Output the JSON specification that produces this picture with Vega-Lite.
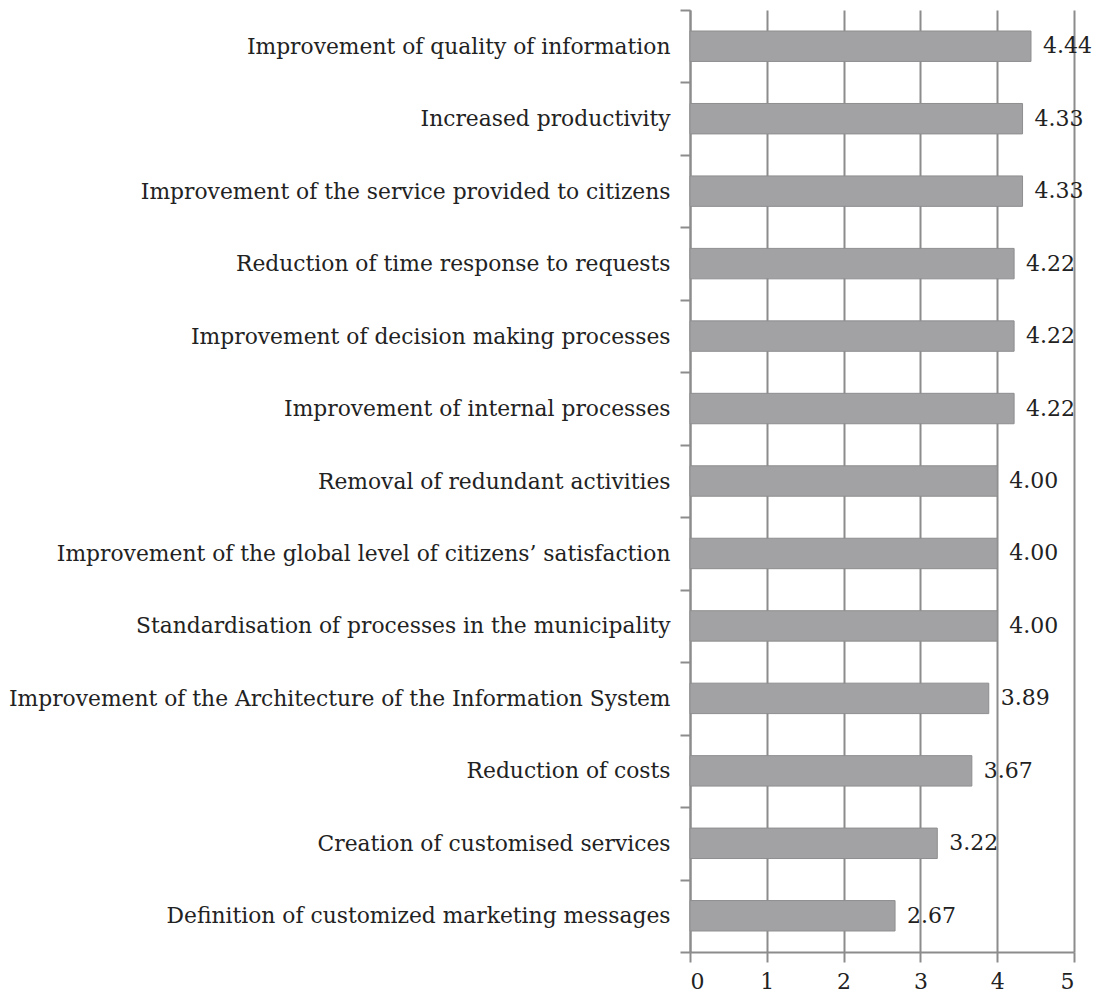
{
  "$schema": "https://vega.github.io/schema/vega-lite/v6.json",
  "autosize": "none",
  "width": 384,
  "height": 942,
  "padding": {"left": 690, "top": 10, "right": 24, "bottom": 45},
  "background": "white",
  "data": {
    "values": [
      {"item": "Improvement of quality of information", "score": 4.44},
      {"item": "Increased productivity", "score": 4.33},
      {"item": "Improvement of the service provided to citizens", "score": 4.33},
      {"item": "Reduction of time response to requests", "score": 4.22},
      {"item": "Improvement of decision making processes", "score": 4.22},
      {"item": "Improvement of internal processes", "score": 4.22},
      {"item": "Removal of redundant activities", "score": 4.0},
      {"item": "Improvement of the global level of citizens’ satisfaction", "score": 4.0},
      {"item": "Standardisation of processes in the municipality", "score": 4.0},
      {"item": "Improvement of the Architecture of the Information System", "score": 3.89},
      {"item": "Reduction of costs", "score": 3.67},
      {"item": "Creation of customised services", "score": 3.22},
      {"item": "Definition of customized marketing messages", "score": 2.67}
    ]
  },
  "config": {
    "view": {"stroke": null},
    "font": "DejaVu Serif"
  },
  "encoding": {
    "y": {
      "field": "item",
      "type": "nominal",
      "sort": null,
      "title": null,
      "scale": {"paddingInner": 0, "paddingOuter": 0},
      "axis": {
        "domainColor": "#8c8c8c",
        "domainWidth": 2,
        "tickColor": "#8c8c8c",
        "tickWidth": 2,
        "tickSize": 10,
        "tickBand": "extent",
        "labelFont": "DejaVu Serif",
        "labelFontSize": 21.8,
        "labelColor": "#222222",
        "labelPadding": 10,
        "labelLimit": 700
      }
    },
    "x": {
      "field": "score",
      "type": "quantitative",
      "title": null,
      "scale": {"domain": [0, 5], "nice": false},
      "axis": {
        "values": [0, 1, 2, 3, 4, 5],
        "grid": true,
        "gridColor": "#8c8c8c",
        "gridWidth": 2,
        "domainColor": "#8c8c8c",
        "domainWidth": 2,
        "tickColor": "#8c8c8c",
        "tickWidth": 2,
        "tickSize": 10,
        "labelFont": "DejaVu Serif",
        "labelFontSize": 22,
        "labelColor": "#222222",
        "labelPadding": 9
      }
    }
  },
  "layer": [
    {
      "mark": {"type": "bar", "color": "#a2a2a4", "stroke": "#8e8e90", "strokeWidth": 1, "height": {"band": 0.42}}
    },
    {
      "mark": {"type": "text", "align": "left", "dx": 12, "fontSize": 22, "color": "#222222", "font": "DejaVu Serif"},
      "encoding": {
        "text": {"field": "score", "type": "quantitative", "format": ".2f"}
      }
    }
  ]
}
